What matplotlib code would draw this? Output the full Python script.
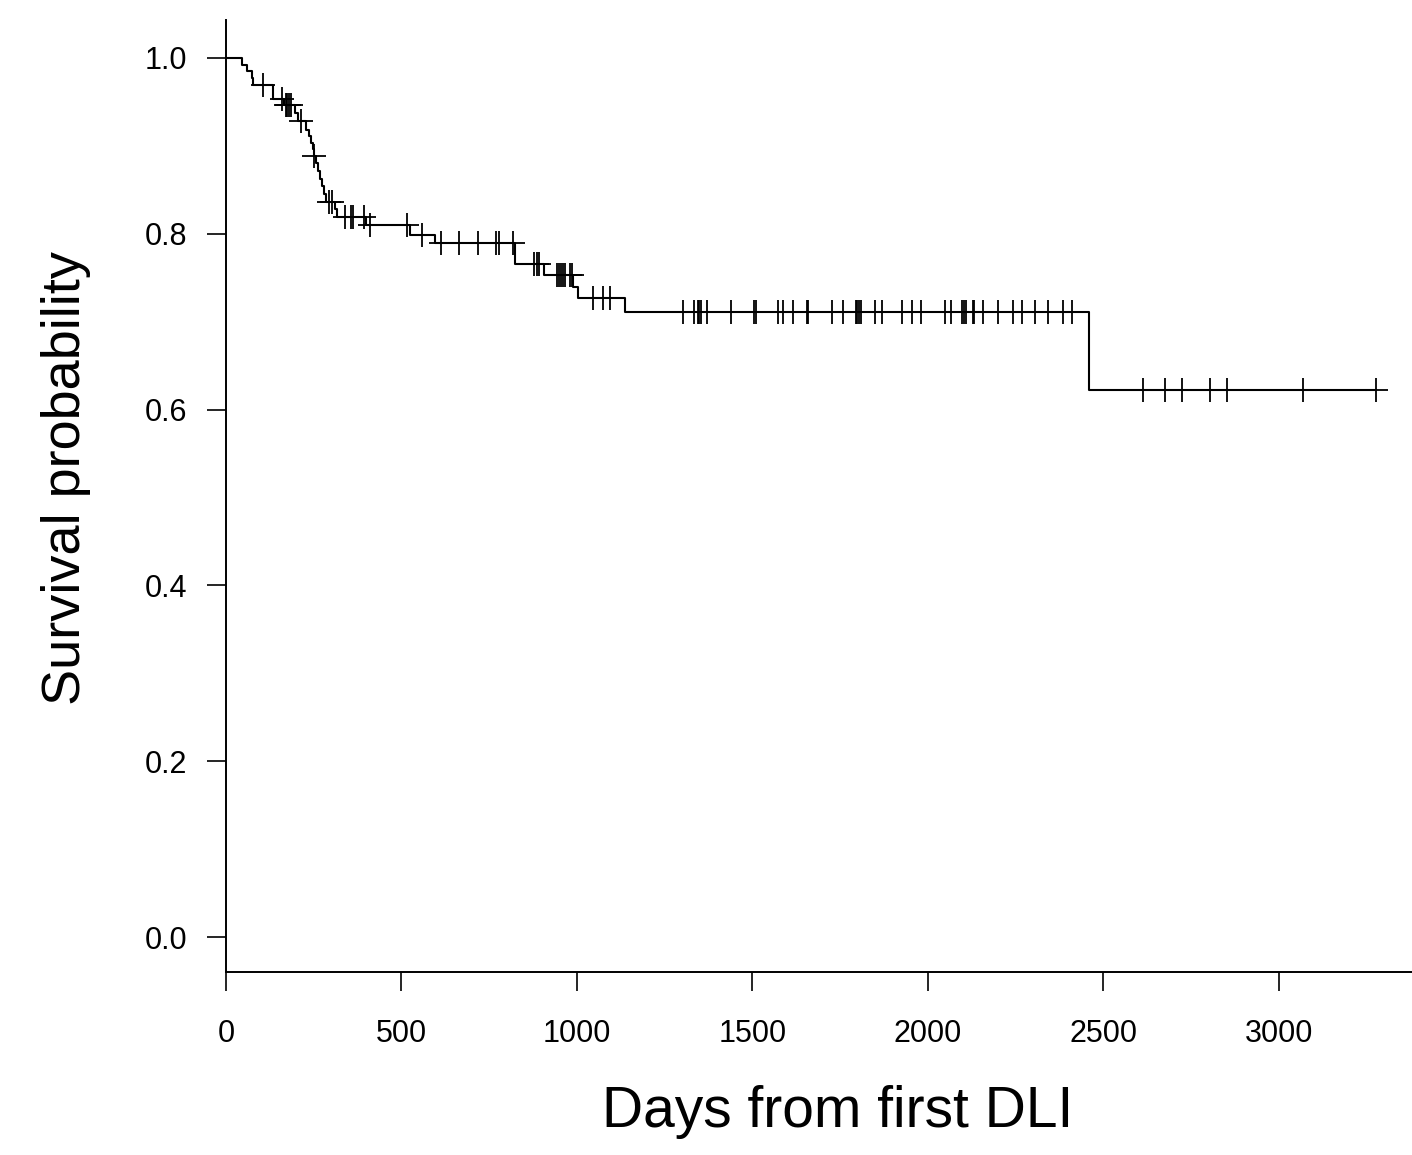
import numpy as np
import matplotlib.pyplot as plt

plt.rcParams["font.family"] = ["Liberation Sans", "DejaVu Sans"]

# Kaplan-Meier steps: day of event and survival just after it
event_days = [47, 59, 73, 78, 135, 165, 197, 205, 228, 236, 242, 247, 251,
              256, 262, 268, 274, 280, 286, 310, 316, 400, 524, 595, 823,
              907, 990, 1003, 1137, 2460]
surv_after = [0.992, 0.985, 0.977, 0.969, 0.953, 0.946, 0.937, 0.928, 0.918,
              0.911, 0.903, 0.896, 0.888, 0.880, 0.871, 0.862, 0.854, 0.845,
              0.8365, 0.828, 0.8195, 0.8095, 0.7986, 0.789, 0.766, 0.753,
              0.740, 0.727, 0.711, 0.622]

# censored observations (days)
censor_days = [106, 159, 170, 175, 180, 185, 213, 252, 294, 303, 339, 356,
               361, 394, 410, 515, 557, 613, 664, 719, 768, 778, 819, 878,
               885, 893, 944, 950, 955, 960, 965, 980, 985, 1047, 1075, 1094,
               1303, 1333, 1344, 1349, 1353, 1371, 1438, 1505, 1510, 1574,
               1586, 1616, 1654, 1659, 1727, 1759, 1795, 1799, 1803, 1808,
               1850, 1868, 1925, 1955, 1979, 2048, 2065, 2098, 2103, 2107,
               2127, 2132, 2158, 2200, 2243, 2269, 2305, 2343, 2384, 2411,
               2613, 2675, 2725, 2803, 2853, 3069, 3276]

x_ticks = [0, 500, 1000, 1500, 2000, 2500, 3000]
y_ticks = [0.0, 0.2, 0.4, 0.6, 0.8, 1.0]

t = np.array([0] + event_days + [censor_days[-1]], dtype=float)
s = np.array([1.0] + surv_after + [surv_after[-1]])
cens = np.array(censor_days, dtype=float)
cens_s = s[np.searchsorted(t, cens, side="right") - 1]

W, H = 1412, 1155
fig = plt.figure(figsize=(W / 100, H / 100), dpi=100)
ax = fig.add_axes([226 / W, 1 - 972 / H, (W - 226) / W, (972 - 20) / H])

ax.step(t, s, where="post", color="black", lw=1.5)
ax.plot(cens, cens_s, ls="none", marker="+", color="black",
        markersize=17, markeredgewidth=1.3)

ax.set_xlim(0, 3379)
ax.set_ylim(-0.0398, 1.0432)
ax.set_xticks(x_ticks)
ax.set_xticklabels([str(v) for v in x_ticks])
ax.set_yticks(y_ticks)
ax.set_yticklabels([f"{v:.1f}" for v in y_ticks])

for side in ("top", "right"):
    ax.spines[side].set_visible(False)
for side in ("left", "bottom"):
    ax.spines[side].set_linewidth(1.4)

ax.tick_params(axis="both", direction="out", length=14, width=1.2,
               labelsize=22)
ax.tick_params(axis="y", pad=14)
ax.tick_params(axis="x", pad=20)

fig.text(838 / W, 1 - 1112 / H, "Days from first DLI", fontsize=41,
         ha="center", va="center")
fig.text(66 / W, 1 - 478 / H, "Survival probability", fontsize=39,
         rotation=90, ha="center", va="center")

fig.savefig("out.png", dpi=100)
